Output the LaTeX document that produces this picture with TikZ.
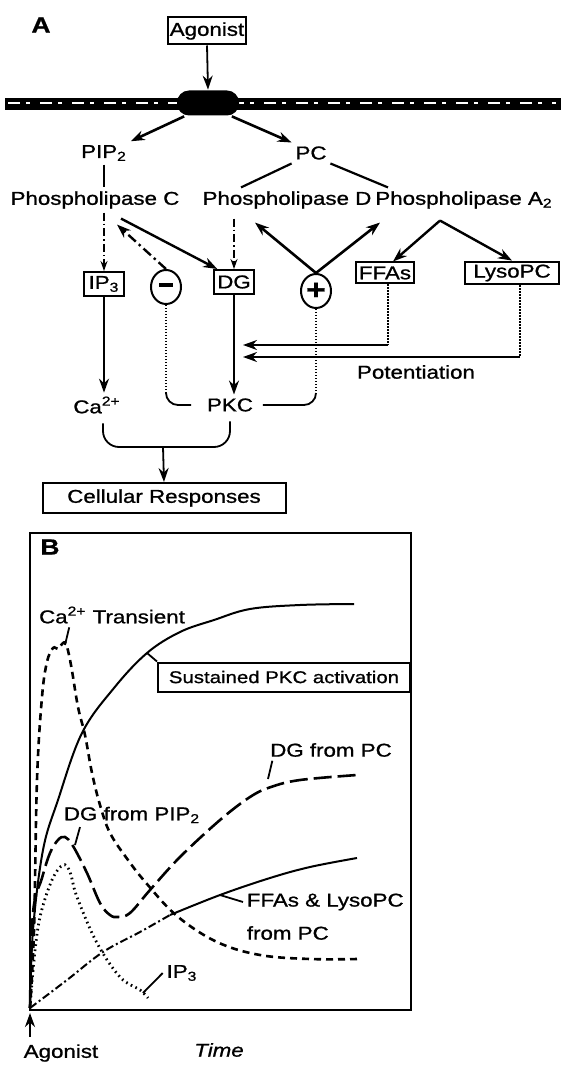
\documentclass[tikz,border=0pt]{standalone}
\usepackage{fontspec}
\setmainfont{Liberation Sans}[FakeStretch=1.2,FakeBold=1]
\usetikzlibrary{arrows.meta,shapes.geometric}

\begin{document}
\begin{tikzpicture}[x=0.5pt,y=-0.5pt,line width=0.9pt,
  >={Stealth[length=7pt,width=5pt]},
  font=\fontsize{9.3}{11}\selectfont,
  every node/.style={inner sep=1.5pt},
  boxed/.style={draw,line width=1pt,inner sep=1.5pt},
  sign/.style={draw,ellipse,line width=1pt,minimum width=15pt,minimum height=17pt,inner sep=0pt},
  dots/.style={line width=1.1pt,dash pattern=on 0.6pt off 0.9pt},
  ddot/.style={line width=0.7pt,dash pattern=on 4pt off 1.5pt on 0.8pt off 1.5pt,
    -{Stealth[length=5pt,width=3.5pt]}},
  small/.style={font=\fontsize{8.5}{10}\selectfont},
  panel/.style={font=\fontsize{11}{13}\selectfont\bfseries}]
\useasboundingbox (0,0) rectangle (561,1069);

% panel A
\node[panel] (labA) at (41,25) {A};
\node[boxed,minimum width=39pt,minimum height=13.5pt,inner sep=1pt] (ago) at (207,31) {Agonist};
\draw[line width=6pt] (5,104) -- (561,104);
\draw[white,line width=0.8pt,dash pattern=on 6pt off 3pt on 2pt off 5pt] (8,103) -- (556,103);
\node[fill=black,rounded corners=6pt,minimum width=31pt,minimum height=12.5pt] (rec) at (208,103) {};
\draw[->] (ago.south) -- (rec.north);

\node (pip) at (104,153) {PIP\textsubscript{2}};
\node (pc) at (311,153) {PC};
\draw[line width=1.3pt,->] ([xshift=4pt]rec.south west) -- (pip.north east);
\draw[line width=1.3pt,->] ([xshift=-4pt]rec.south east) -- (pc.north west);

\node (plc) at (95,200) {Phospholipase C};
\node (pld) at (287,200) {Phospholipase D};
\node (pla) at (464,200) {Phospholipase A\textsubscript{2}};
\draw (pip.south) -- (pip.south |- plc.north);
\draw[line width=1.1pt] (pc.south west) -- ([xshift=-23pt]pld.north);
\draw[line width=1.1pt] (pc.south east) -- ([xshift=-38pt]pla.north);

\node[boxed,minimum width=20pt,minimum height=12pt] (ip3) at (104,284) {IP\textsubscript{3}};
\node[sign] (minus) at (166,287) {\rule[2.4pt]{7pt}{2pt}};
\node[boxed,minimum width=18pt,minimum height=12pt] (dg) at (234,282) {DG};
\node[sign] (plus) at (316,291) {\fontsize{14}{14}\selectfont\bfseries +};
\node[boxed,minimum width=27pt,minimum height=10.5pt] (ffas) at (385,273) {FFAs};
\node[boxed,minimum width=47pt,minimum height=10.5pt] (lyso) at (512,273) {LysoPC};

\draw[ddot] (plc.south -| ip3.north) -- (ip3.north);
\draw[line width=1.2pt,dash pattern=on 5pt off 2pt on 1.2pt off 2pt,->] (minus.north) -- ([shift={(11pt,-6pt)}]plc.south);
\draw[line width=1.2pt,->] ([shift={(13pt,-3pt)}]plc.south) -- ([xshift=2pt]dg.north west);
\draw[ddot,shorten <=3pt] (dg.north |- pld.south) -- (dg.north);
\draw[line width=1.3pt,->] (plus.north) -- ([shift={(-16pt,-5pt)}]pld.south);
\draw[line width=1.3pt,->] (plus.north) -- ([shift={(-42pt,-5pt)}]pla.south);
\draw[line width=1.2pt,->] ([shift={(-12pt,-4pt)}]pla.south) -- ([xshift=4pt]ffas.north);
\draw[line width=1.2pt,->] ([shift={(-12pt,-4pt)}]pla.south) -- (lyso.north);

% potentiation
\coordinate (fcor) at (388,345);
\coordinate (lcor) at (520,357);
\coordinate (potend) at (243,0);
\draw[dots] ([xshift=1.5pt]ffas.south) -- (fcor);
\draw[dots] ([xshift=4pt]lyso.south) -- (lcor);
\draw[line width=1.1pt,->] (fcor) -- (fcor -| potend);
\draw[line width=1.1pt,->] (lcor) -- (lcor -| potend);
\node (pot) at (416,372) {Potentiation};

\node (ca) at (97,405) {Ca\textsuperscript{2+}};
\node (pkc) at (230,405) {PKC};
\draw[->] (ip3.south) -- (ip3.south |- ca.north);
\draw[->] (dg.south) -- (dg.south |- pkc.north);
\coordinate (lvlM) at (0,393);
\draw[dots] (minus.south) -- (minus.south |- lvlM);
\draw[dots] (plus.south) -- (plus.south |- lvlM);
\draw[rounded corners=6pt,shorten >=6pt] (minus.south |- lvlM) |- (pkc.west);
\draw[rounded corners=6pt,shorten >=3pt] (plus.south |- lvlM) |- (pkc.east);

\node[boxed,minimum width=121.5pt,minimum height=15pt] (cell) at (164,498) {Cellular Responses};
\coordinate (brc) at (163,447);
\draw[rounded corners=8pt,shorten <=3pt,shorten >=3pt] ([xshift=3pt]ca.south) |- (brc) -| (pkc.south);
\draw[->] (brc) -- (cell.north);

% panel B
\draw[line width=1.2pt] (30,533) rectangle (411,1010);
\node[panel] (labB) at (50,547) {B};
\draw[line width=1pt] plot[smooth,tension=0.6] coordinates {(30,1008) (33,930) (43,850) (58,800)
  (82,733) (114,688) (147,653) (180,632) (214,620) (250,609) (300,605) (354,604)};
\draw[line width=1.3pt,dash pattern=on 3.5pt off 2.5pt] plot[smooth,tension=0.6] coordinates {(30,1008)
  (34,930) (37,780) (42,697) (47,662) (53,648) (58,649) (62,644) (66,644) (71,665) (78,707)
  (85,735) (92,773) (100,805) (110,833) (128,860) (147,884) (177,916) (217,942) (260,955)
  (310,959) (357,959)};
\draw[line width=1.3pt,dash pattern=on 9pt off 3pt] plot[smooth,tension=0.6] coordinates {(30,1008)
  (33,913) (42,878) (50,853) (58,840) (65,837) (73,846) (87,873) (100,903) (110,915) (118,917)
  (130,913) (150,890) (180,857) (220,820) (250,797) (271,787) (300,780) (357,775)};
\draw[line width=1.4pt,dash pattern=on 0.8pt off 1.8pt] plot[smooth,tension=0.6] coordinates {(30,1008)
  (34,960) (40,917) (52,880) (63,865) (70,872) (77,897) (97,943) (120,977) (140,990) (148,998)};
\draw[line width=1pt,dash pattern=on 4pt off 1.5pt on 1pt off 1.5pt] plot[smooth,tension=0.6]
  coordinates {(30,1008) (67,980) (103,952) (140,932) (170,915)};
\draw[line width=1pt] plot[smooth,tension=0.6] coordinates {(170,915) (220,895) (270,878)
  (310,867) (357,858)};

\node (catr) at (112,615) {Ca\textsuperscript{2+} Transient};
\node[boxed,small,minimum width=126pt,minimum height=14.5pt] (sust) at (284,677) {Sustained PKC activation};
\node (dgpc) at (331,750) {DG from PC};
\node (dgpip) at (132,815) {DG from PIP\textsubscript{2}};
\node[anchor=west] (ffal) at (243,902) {FFAs \& LysoPC};
\node[anchor=west] (frpc) at (243,933) {from PC};
\node (ip3l) at (182,973) {IP\textsubscript{3}};
\coordinate (capk) at (65,645);
\coordinate (pkpt) at (147,653);
\coordinate (dgpk) at (268,779);
\coordinate (dgpk2) at (75,845);
\coordinate (ffpt) at (220,895);
\coordinate (ippt) at (143,993);
\draw (catr.south west) ++(17pt,0) -- (capk);
\draw (sust.north west) -- (pkpt);
\draw (dgpc.south west) ++(3pt,0) -- (dgpk);
\draw (dgpip.south west) ++(10pt,0) -- (dgpk2);
\draw (ffal.west) -- (ffpt);
\draw (ip3l.west) -- (ippt);

\draw[line width=1.2pt,<-] (30,1013) -- (30,1037);
\node (agob) at (61,1053) {Agonist};
\node (time) at (219,1050) {\itshape Time};
\end{tikzpicture}
\end{document}
